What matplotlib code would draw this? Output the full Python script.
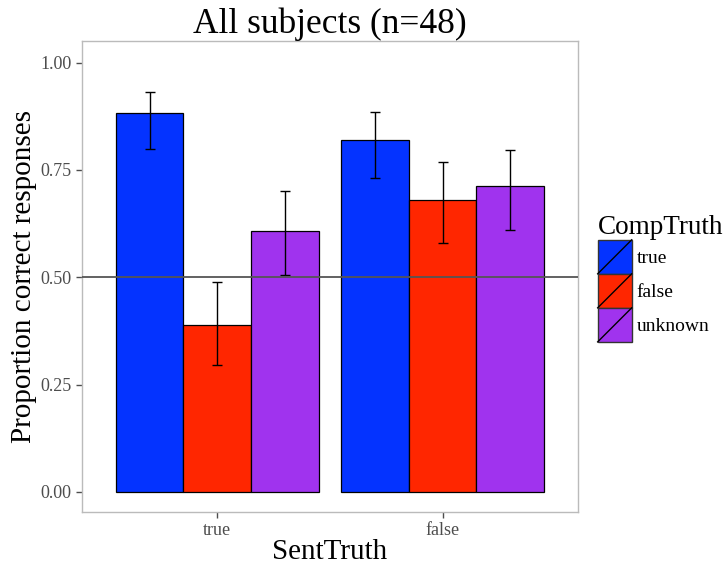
import matplotlib
matplotlib.use("Agg")
import matplotlib.pyplot as plt
import numpy as np
from matplotlib.patches import Rectangle
from matplotlib.lines import Line2D
from matplotlib.legend_handler import HandlerPatch

sent_truth = ["true", "false"]
comp_truth = ["true", "false", "unknown"]
# proportion correct, rows = SentTruth, cols = CompTruth
means = [[0.883, 0.389, 0.608],
         [0.820, 0.681, 0.713]]
err_low = [[0.800, 0.296, 0.506],
           [0.732, 0.580, 0.611]]
err_high = [[0.932, 0.490, 0.702],
            [0.886, 0.769, 0.797]]
colors = ["#0433FF", "#FF2600", "#A033EE"]

plt.rcParams["font.family"] = ["Liberation Serif", "DejaVu Serif"]


class HandlerSlash(HandlerPatch):
    def create_artists(self, legend, orig_handle, xdescent, ydescent,
                       width, height, fontsize, trans):
        r = Rectangle((-xdescent, -ydescent), width, height,
                      facecolor=orig_handle.get_facecolor(),
                      edgecolor="#333333", linewidth=1.0, transform=trans)
        ln = Line2D([-xdescent, -xdescent + width], [-ydescent, -ydescent + height],
                    color="black", linewidth=1.0, transform=trans)
        return [r, ln]


fig = plt.figure(figsize=(7.25, 5.67), dpi=100)
ax = fig.add_axes([0.113, 0.097, 0.684, 0.831])

n = len(comp_truth)
dodge = 0.9
bw = dodge / n
xs = np.arange(1, len(sent_truth) + 1)
handles = []
for j, ct in enumerate(comp_truth):
    pos = xs - dodge / 2 + bw * (j + 0.5)
    m = np.array([means[i][j] for i in range(len(sent_truth))])
    lo = np.array([err_low[i][j] for i in range(len(sent_truth))])
    hi = np.array([err_high[i][j] for i in range(len(sent_truth))])
    ax.bar(pos, m, width=bw, color=colors[j], edgecolor="black",
           linewidth=0.9, label=ct, zorder=2)
    handles.append(Rectangle((0, 0), 1, 1, facecolor=colors[j]))
    ax.errorbar(pos, m, yerr=[m - lo, hi - m], fmt="none", ecolor="black",
                elinewidth=1.0, capsize=3.5, capthick=1.0, zorder=3)

ax.axhline(0.5, color="#555555", linewidth=1.3, zorder=4)

ax.set_xlim(0.4, 2.6)
ax.set_ylim(-0.047, 1.051)
ax.set_xticks(xs)
ax.set_xticklabels(sent_truth)
ax.set_yticks([0, 0.25, 0.5, 0.75, 1.0])
ax.set_yticklabels(["0.00", "0.25", "0.50", "0.75", "1.00"])
ax.tick_params(colors="#4d4d4d", labelsize=13, length=4, width=1)
for s in ax.spines.values():
    s.set_color("#bbbbbb")
    s.set_linewidth(1.0)

ax.set_xlabel("SentTruth", fontsize=21, labelpad=0)
ax.set_ylabel("Proportion correct responses", fontsize=21, labelpad=2)
ax.set_title("All subjects (n=48)", fontsize=25.5, pad=1.5)

leg = fig.legend(handles, comp_truth, title="CompTruth",
                 handler_map={Rectangle: HandlerSlash()},
                 loc="upper left", bbox_to_anchor=(0.819, 0.628),
                 frameon=False, fontsize=14, title_fontsize=19.5,
                 handlelength=1.75, handleheight=2.315, labelspacing=0.0,
                 handletextpad=0.25, borderaxespad=0, borderpad=0.2)
leg._legend_box.align = "left"

fig.savefig("out.png", dpi=100)
